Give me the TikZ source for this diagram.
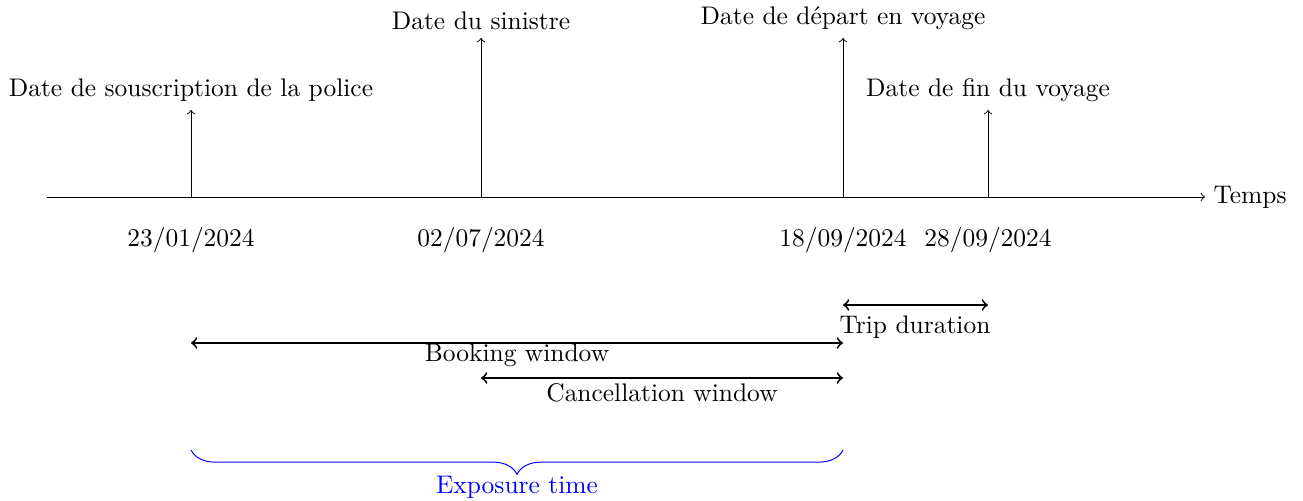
\documentclass[tikz,border=0pt]{standalone}
\usepackage{fontspec}
\usetikzlibrary{decorations.pathreplacing}
\begin{document}
\begin{tikzpicture}[x=0.0145cm,y=-0.0145cm,
  every node/.style={font=\fontsize{10.5}{12.6}\selectfont},
  lbl/.style={anchor=south,inner sep=3.3pt},
  datelbl/.style={inner sep=2pt},
  win/.style={<->,thick},
  winlbl/.style={inner sep=1pt}]
\useasboundingbox (0,0) rectangle (1303,501);
% axis
\coordinate (a0) at (47,197);
\coordinate (a1) at (1205,197);
\draw[->] (a0) -- (a1);
\node[anchor=west] (temps) at (a1) {Temps};
% ticks
\coordinate (t1) at (191,197);
\coordinate (t2) at (481,197);
\coordinate (t3) at (843,197);
\coordinate (t4) at (988,197);
\node[lbl] (l1) at (191,110) {Date de souscription de la police};
\node[lbl] (l2) at (481,38) {Date du sinistre};
\node[lbl] (l3) at (843,38) {Date de départ en voyage};
\node[lbl] (l4) at (988,110) {Date de fin du voyage};
\draw[->] (t1) -- (l1.south);
\draw[->] (t2) -- (l2.south);
\draw[->] (t3) -- (l3.south);
\draw[->] (t4) -- (l4.south);
% dates
\node[datelbl] (d1) at (191,240) {23/01/2024};
\node[datelbl] (d2) at (481,240) {02/07/2024};
\node[datelbl] (d3) at (843,240) {18/09/2024};
\node[datelbl] (d4) at (988,240) {28/09/2024};
% windows
\coordinate (tr0) at (843,305);
\coordinate (tr1) at (988,305);
\draw[win] (tr0) -- (tr1);
\node[winlbl] (trl) at (915,327) {Trip duration};
\coordinate (bk0) at (191,343);
\coordinate (bk1) at (843,343);
\draw[win] (bk0) -- (bk1);
\node[winlbl] (bkl) at (517,355) {Booking window};
\coordinate (cw0) at (481,378);
\coordinate (cw1) at (843,378);
\draw[win] (cw0) -- (cw1);
\node[winlbl] (cwl) at (662,393) {Cancellation window};
% brace
\coordinate (br0) at (191,450);
\coordinate (br1) at (843,450);
\draw[blue,decorate,decoration={brace,mirror,amplitude=10pt}] (br0) -- (br1);
\node[blue,inner sep=1pt] (exp) at (517,487) {Exposure time};
\end{tikzpicture}
\end{document}
